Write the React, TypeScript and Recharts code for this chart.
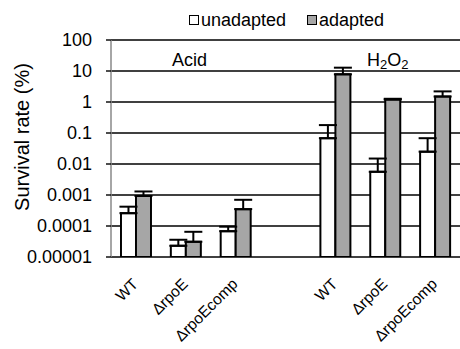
import React from 'react';
import { BarChart, Bar, XAxis, YAxis, CartesianGrid, ErrorBar } from 'recharts';

const FONT = '"Liberation Sans", Arial, sans-serif';

// categories (index 3 is the empty spacer between the two groups)
const categories = ['WT', 'ΔrpoE', 'ΔrpoEcomp', '', 'WT', 'ΔrpoE', 'ΔrpoEcomp'];
const categoryKeys = ['acid-wt', 'acid-rpoe', 'acid-comp', 'gap', 'h2o2-wt', 'h2o2-rpoe', 'h2o2-comp'];

// survival rate (%)
const unadapted = [0.00026, 0.000023, 0.000068, null, 0.068, 0.0056, 0.025];
const unadaptedTop = [0.00042, 0.000036, 0.000095, null, 0.18, 0.015, 0.068];
const adapted = [0.00093, 0.000031, 0.00035, null, 7.8, 1.2, 1.5];
const adaptedTop = [0.0013, 0.000065, 0.0007, null, 12.8, 1.27, 2.2];

const yTicks = [0.00001, 0.0001, 0.001, 0.01, 0.1, 1, 10, 100];
const yTickLabels = ['0.00001', '0.0001', '0.001', '0.01', '0.1', '1', '10', '100'];
const edgeTicks = [0, 1, 2, 3, 4, 5, 6, 7];

const data = categoryKeys.map((key, i) => ({
  key,
  unadapted: unadapted[i],
  adapted: adapted[i],
  unErr: unadapted[i] == null ? null : [0, (unadaptedTop[i] as number) - (unadapted[i] as number)],
  adErr: adapted[i] == null ? null : [0, (adaptedTop[i] as number) - (adapted[i] as number)],
}));

function CategoryTick({ x, y, payload }: any) {
  const label = categories[payload.index] ?? '';
  return (
    <g transform={`translate(${x + 3},${y + 28})`}>
      <text x={0} y={0} textAnchor="end" transform="rotate(-45)" fontSize={15.5} fontFamily={FONT} fill="#000">
        {label}
      </text>
    </g>
  );
}

function LegendItem({ fill, text, left }: { fill: string; text: string; left: number }) {
  return (
    <div
      style={{
        position: 'absolute', left, top: 9, fontSize: 18, lineHeight: '22px', color: '#000',
        whiteSpace: 'nowrap', display: 'flex', alignItems: 'center',
      }}
    >
      <span style={{ width: 8, height: 8, border: '1px solid #000', background: fill, display: 'inline-block', marginRight: 2 }} />
      <span>{text}</span>
    </div>
  );
}

export default function App() {
  return (
    <div style={{ position: 'absolute', left: 0, top: 0, width: 460, height: 349, background: '#fff', fontFamily: FONT }}>
      <BarChart
        width={460}
        height={349}
        data={data}
        margin={{ top: 40, right: 0, bottom: 0, left: 0 }}
        barCategoryGap="20%"
        barGap={0}
      >
        <CartesianGrid vertical={false} stroke="#000" strokeWidth={1.4} />
        <XAxis
          xAxisId="edges"
          type="number"
          domain={[0, 7]}
          allowDataOverflow
          ticks={edgeTicks}
          height={0}
          tickFormatter={() => ''}
          tickSize={5}
          axisLine={{ stroke: '#888', strokeWidth: 1.5 }}
          tickLine={{ stroke: '#888', strokeWidth: 1.2 }}
        />
        <XAxis
          dataKey="key"
          height={92}
          interval={0}
          axisLine={false}
          tickLine={false}
          tickSize={0}
          tickMargin={0}
          tick={<CategoryTick />}
        />
        <YAxis
          scale="log"
          type="number"
          domain={[0.00001, 100]}
          allowDataOverflow
          ticks={yTicks}
          interval={0}
          width={111}
          tickSize={5}
          tickMargin={14}
          tickFormatter={(v: number) => yTickLabels[yTicks.indexOf(v)] ?? String(v)}
          tick={{ fontSize: 18, fontFamily: FONT, fill: '#000' }}
          axisLine={{ stroke: '#888', strokeWidth: 1.5 }}
          tickLine={{ stroke: '#000', strokeWidth: 1.4 }}
        />
        <Bar dataKey="unadapted" name="unadapted" fill="#fff" stroke="#000" strokeWidth={2} isAnimationActive={false}>
          <ErrorBar dataKey="unErr" width={9} stroke="#000" strokeWidth={2} direction="y" isAnimationActive={false} />
        </Bar>
        <Bar dataKey="adapted" name="adapted" fill="#a6a6a6" stroke="#000" strokeWidth={2} isAnimationActive={false}>
          <ErrorBar dataKey="adErr" width={9} stroke="#000" strokeWidth={2} direction="y" isAnimationActive={false} />
        </Bar>
      </BarChart>
      <LegendItem fill="#fff" text="unadapted" left={189} />
      <LegendItem fill="#a6a6a6" text="adapted" left={307} />
      <div style={{ position: 'absolute', left: 172, top: 50, fontSize: 18, lineHeight: '20px', color: '#000' }}>Acid</div>
      <div style={{ position: 'absolute', left: 367, top: 50, fontSize: 18, lineHeight: '20px', color: '#000' }}>
        H<sub style={{ fontSize: 13, verticalAlign: '-3px', lineHeight: 0 }}>2</sub>O<sub style={{ fontSize: 13, verticalAlign: '-3px', lineHeight: 0 }}>2</sub>
      </div>
      <div
        style={{
          position: 'absolute',
          left: 22,
          top: 137,
          fontSize: 20,
          lineHeight: '22px',
          color: '#000',
          whiteSpace: 'nowrap',
          transform: 'translate(-50%, -50%) rotate(-90deg)',
        }}
      >
        Survival rate (%)
      </div>
    </div>
  );
}
